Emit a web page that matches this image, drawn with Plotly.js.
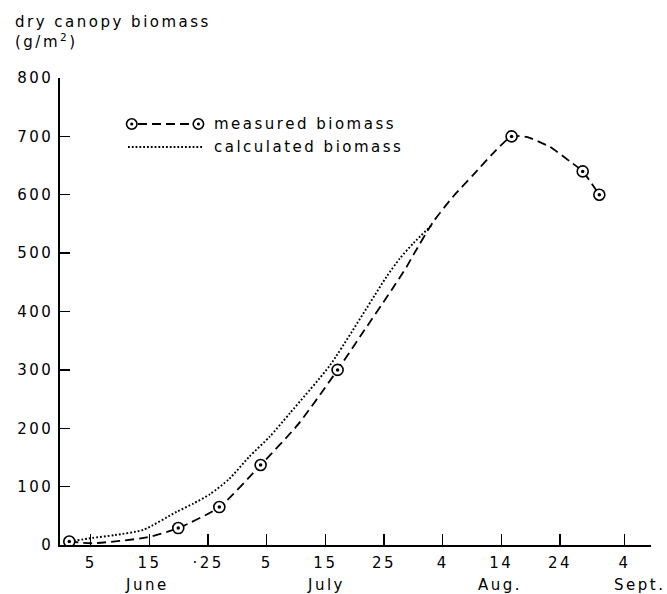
<!DOCTYPE html>
<html>
<head>
<meta charset="utf-8">
<script src="https://cdn.plot.ly/plotly-3.0.1.min.js"></script>
<style>
  html, body { margin: 0; padding: 0; background: #fff; }
  #chart { width: 667px; height: 594px; }
  svg text { letter-spacing: 2.5px; }
</style>
</head>
<body>
<div id="chart"></div>
<script>
// ---- data ----
const tickDates = ['1975-06-05','1975-06-15','1975-06-25','1975-07-05','1975-07-15','1975-07-25','1975-08-04','1975-08-14','1975-08-24','1975-09-04'];
const tickLabels = ['5','15','·25','5','15','25','4','14','24','4'];
const monthLabels = ['June','July','Aug.','Sept.'];
const monthDates = ['1975-06-14 14:00','1975-07-15 02:00','1975-08-13 18:00','1975-09-06 14:00'];
const yTickValues = [0,100,200,300,400,500,600,700,800];

const measuredDates = ['1975-06-01 08:00','1975-06-19 22:00','1975-06-26 22:00','1975-07-03 23:00','1975-07-17 02:00','1975-08-15 18:00','1975-08-27 21:00','1975-08-30 17:00'];
const measuredValues = [6,29,65,137,300,700,640,600];

const measuredCurveDates = ['1975-06-01 08:00','1975-06-05 04:00','1975-06-14 13:00','1975-06-19 22:00','1975-06-26 22:00','1975-07-03 23:00','1975-07-10 09:00','1975-07-17 02:00','1975-07-20 22:00','1975-07-26 07:00','1975-07-28 21:00','1975-07-30 00:00','1975-08-02 10:00','1975-08-05 19:00','1975-08-09 05:00','1975-08-12 14:00','1975-08-15 18:00','1975-08-18 07:00','1975-08-22 07:00','1975-08-25 17:00','1975-08-27 21:00','1975-08-30 17:00'];
const measuredCurveValues = [6,3,13,29,65,137,207,300,357,437,477,497,554,597,634,671,700,699,682,657,640,600];

const calculatedDates = ['1975-06-01 11:00','1975-06-05 04:00','1975-06-09 03:00','1975-06-13 23:00','1975-06-19 16:00','1975-06-22 12:00','1975-06-25 08:00','1975-06-28 14:00','1975-07-02 00:00','1975-07-05 13:00','1975-07-08 23:00','1975-07-15 19:00','1975-07-25 11:00','1975-07-27 17:00','1975-07-30 00:00','1975-08-02 03:00'];
const calculatedValues = [6,12,17,26,57,71,87,113,151,186,226,308,460,491,517,548];

const yTitleLines = ['dry canopy biomass', '(g/m<sup>2</sup>)'];
const legendLabels = ['measured biomass', 'calculated biomass'];

// ---- layout geometry ----
const W = 667, H = 594, L = 60, R = 16, T = 78, B = 49;
const PW = W - L - R, PH = H - T - B;
const px = x => (x - L) / PW;
const py = y => (H - B - y) / PH;

const FONT = {family: 'DejaVu Sans', size: 15, color: '#000'};
const dashLong = '9px,5px';
const dotStyle = '1.8px,2px';

const traces = [
  { x: calculatedDates, y: calculatedValues, type: 'scatter', mode: 'lines',
    line: {color: '#000', width: 1.9, dash: dotStyle, shape: 'spline', smoothing: 0.6},
    hoverinfo: 'skip' },
  { x: measuredCurveDates, y: measuredCurveValues, type: 'scatter', mode: 'lines',
    line: {color: '#000', width: 1.8, dash: dashLong, shape: 'spline', smoothing: 0.6},
    hoverinfo: 'skip' },
  { x: measuredDates, y: measuredValues, type: 'scatter', mode: 'markers',
    marker: {symbol: 'circle', size: 11, color: '#fff', line: {color: '#000', width: 1.6}} },
  { x: measuredDates, y: measuredValues, type: 'scatter', mode: 'markers',
    marker: {symbol: 'circle', size: 3.5, color: '#000', line: {width: 0}} }
];

const annotations = [
  {xref: 'paper', yref: 'paper', x: px(13), y: py(22), xanchor: 'left', yanchor: 'middle',
   text: yTitleLines[0], showarrow: false, font: FONT},
  {xref: 'paper', yref: 'paper', x: px(13), y: py(41), xanchor: 'left', yanchor: 'middle',
   text: yTitleLines[1], showarrow: false, font: FONT},
  {xref: 'paper', yref: 'paper', x: px(212), y: py(124), xanchor: 'left', yanchor: 'middle',
   text: legendLabels[0], showarrow: false, font: FONT},
  {xref: 'paper', yref: 'paper', x: px(212), y: py(147), xanchor: 'left', yanchor: 'middle',
   text: legendLabels[1], showarrow: false, font: FONT}
];
monthLabels.forEach((m, i) => annotations.push({
  xref: 'x', yref: 'paper', x: monthDates[i], y: py(585), xanchor: 'center', yanchor: 'middle',
  text: m, showarrow: false, font: FONT
}));

const shapes = [
  {type: 'line', xref: 'paper', yref: 'paper', x0: px(138), x1: px(193), y0: py(124), y1: py(124),
   line: {color: '#000', width: 1.8, dash: dashLong}},
  {type: 'circle', xref: 'paper', yref: 'paper', x0: px(126.5), x1: px(137), y0: py(118.8), y1: py(129.2),
   fillcolor: '#fff', line: {color: '#000', width: 1.6}},
  {type: 'circle', xref: 'paper', yref: 'paper', x0: px(193.2), x1: px(203.6), y0: py(118.8), y1: py(129.2),
   fillcolor: '#fff', line: {color: '#000', width: 1.6}},
  {type: 'circle', xref: 'paper', yref: 'paper', x0: px(130.2), x1: px(133.3), y0: py(122.4), y1: py(125.6),
   fillcolor: '#000', line: {color: '#000', width: 0}},
  {type: 'circle', xref: 'paper', yref: 'paper', x0: px(196.9), x1: px(200), y0: py(122.4), y1: py(125.6),
   fillcolor: '#000', line: {color: '#000', width: 0}},
  {type: 'line', xref: 'paper', yref: 'paper', x0: px(128), x1: px(202), y0: py(147), y1: py(147),
   line: {color: '#000', width: 1.9, dash: dotStyle}}
];

const layout = {
  width: W, height: H,
  margin: {l: L, r: R, t: T, b: B, pad: 0},
  paper_bgcolor: '#fff', plot_bgcolor: '#fff',
  font: FONT,
  showlegend: false,
  xaxis: {
    type: 'date',
    range: ['1975-05-30 18:00', '1975-09-08 12:30'],
    tickmode: 'array', tickvals: tickDates, ticktext: tickLabels,
    ticks: 'inside', ticklen: 11, tickwidth: 1.4, tickcolor: '#000',
    showline: true, linecolor: '#000', linewidth: 1.6,
    showgrid: false, zeroline: false,
    tickfont: FONT, ticklabelstandoff: 3, automargin: false
  },
  yaxis: {
    range: [0, 800],
    tickmode: 'array', tickvals: yTickValues, ticktext: yTickValues.map(String),
    ticks: 'inside', ticklen: 10, tickwidth: 1.4, tickcolor: '#000',
    showline: true, linecolor: '#000', linewidth: 1.6,
    showgrid: false, zeroline: false,
    tickfont: FONT, ticklabelstandoff: 2, automargin: false
  },
  annotations: annotations,
  shapes: shapes
};

Plotly.newPlot('chart', traces, layout, {displayModeBar: false, staticPlot: true});
</script>
</body>
</html>
